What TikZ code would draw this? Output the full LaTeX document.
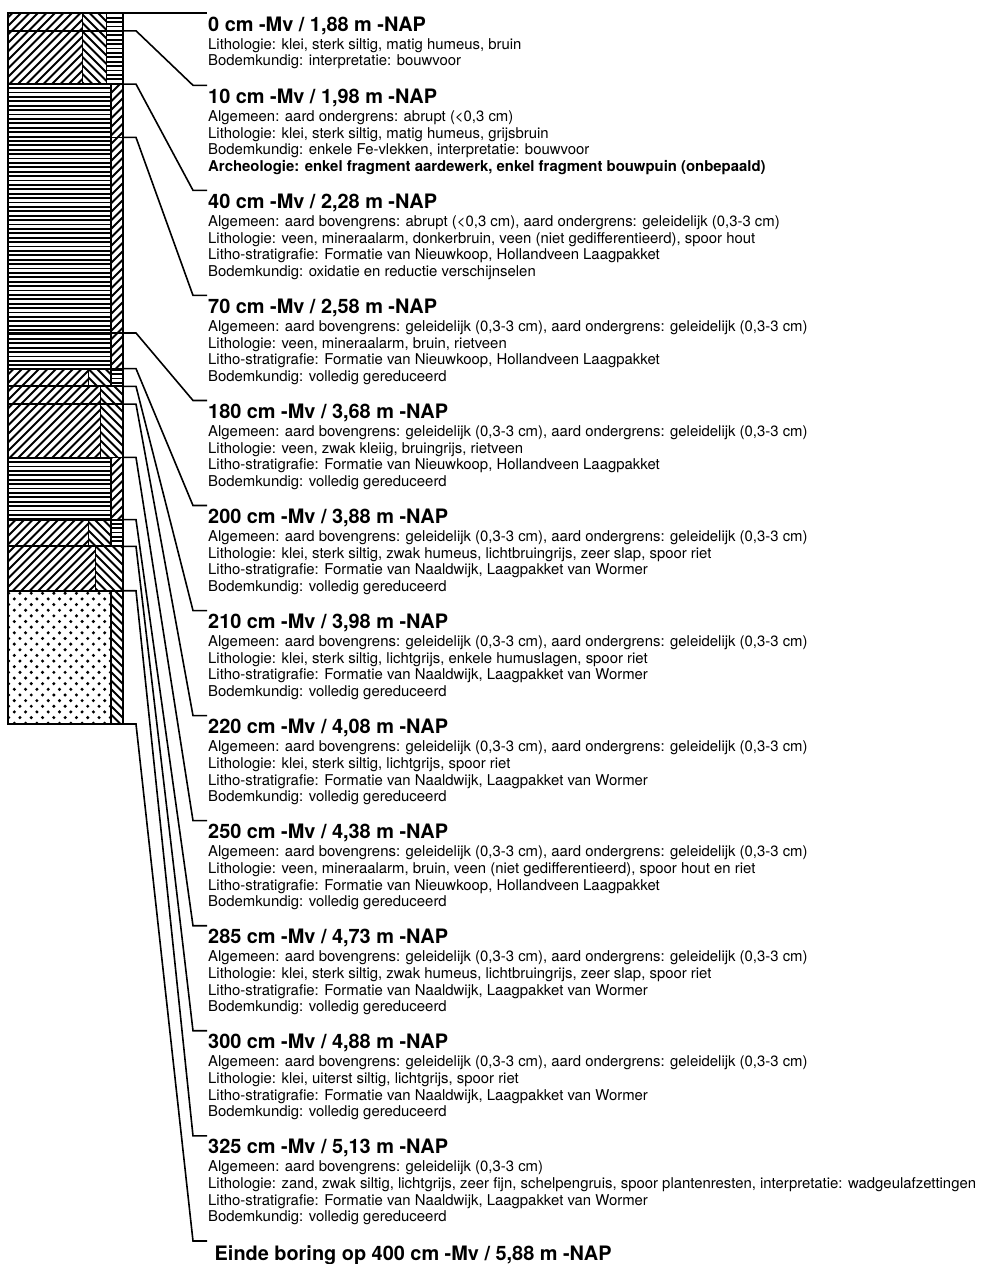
\documentclass[tikz,border=0pt]{standalone}
\usepackage{fontspec}
\setmainfont{TeX Gyre Heros}
\usetikzlibrary{calc}

\begin{document}
\begin{tikzpicture}[x=1pt, y=-1pt,
    head/.style={anchor=base west, inner sep=0pt, font=\fontsize{19.9}{22}\selectfont\bfseries},
    body/.style={anchor=base west, inner sep=0pt, align=left, font=\fontsize{14.9}{16.7}\selectfont},
    layer/.style={line width=1.8pt},
    divider/.style={line width=1pt},
    hatch/.style={line width=1.9pt},
    stripe/.style={line width=1.8pt},
    conn/.style={line width=1.6pt}]

        % Dimensions of the boring column
        \def\colL{8}
        \def\colR{123}
        \def\textx{208}
        \def\gap{8.5} % spacing of the hatching
        \def\lead{4.4} % spacing of the stripes

        \useasboundingbox (0,0) rectangle (982,1264);

\newcommand{\hatchfwd}[4]{
    \begin{scope}
        \clip (#1,#2) rectangle (#3,#4);
        \pgfmathtruncatemacro{\ka}{(#1+#2)/\gap-2}
        \pgfmathtruncatemacro{\kb}{(#3+#4)/\gap+2}
        \foreach \k in {\ka,...,\kb}
            \draw[hatch] ({\k*\gap-#4-2},{#4+2}) -- ({\k*\gap-#2+2},{#2-2});
    \end{scope}
}
\newcommand{\hatchback}[4]{
    \begin{scope}
        \clip (#1,#2) rectangle (#3,#4);
        \pgfmathtruncatemacro{\ka}{(#1-#4)/\gap-2}
        \pgfmathtruncatemacro{\kb}{(#3-#2)/\gap+2}
        \foreach \k in {\ka,...,\kb}
            \draw[hatch] ({\k*\gap+#2-2},{#2-2}) -- ({\k*\gap+#4+2},{#4+2});
    \end{scope}
}
\newcommand{\hstripes}[4]{
    \begin{scope}
        \clip (#1,#2) rectangle (#3,#4);
        \pgfmathtruncatemacro{\ka}{#2/\lead}
        \pgfmathtruncatemacro{\kb}{#4/\lead+1}
        \foreach \k in {\ka,...,\kb}
            \draw[stripe] (#1,{\k*\lead}) -- (#3,{\k*\lead});
    \end{scope}
}
\newcommand{\sanddots}[4]{
    \begin{scope}
        \clip (#1,#2) rectangle (#3,#4);
        \pgfmathtruncatemacro{\ka}{#2/5.65}
        \pgfmathtruncatemacro{\kb}{#4/5.65+1}
        \foreach \k in {\ka,...,\kb}
            \foreach \m in {0,...,10}
                \fill ({\m*11.3+mod(\k,2)*5.65+3},{\k*5.65}) circle (1.7);
    \end{scope}
}

        % Fill the layers
        \hatchfwd{8}{13}{82}{84.1}
        \hatchback{82}{13}{106.5}{84.1}
        \hstripes{106.5}{13}{123}{84.1}
        \hstripes{8}{84.1}{111}{368.6}
        \hatchfwd{111}{84.1}{123}{368.6}
        \hatchfwd{8}{368.6}{88}{386.3}
        \hatchback{88}{368.6}{111}{386.3}
        \hstripes{111}{368.6}{123}{386.3}
        \hatchfwd{8}{386.3}{100}{457.4}
        \hatchback{100}{386.3}{123}{457.4}
        \hstripes{8}{457.4}{111}{519.6}
        \hatchfwd{111}{457.4}{123}{519.6}
        \hatchfwd{8}{519.6}{88}{546.3}
        \hatchback{88}{519.6}{111}{546.3}
        \hstripes{111}{519.6}{123}{546.3}
        \hatchfwd{8}{546.3}{95}{590.7}
        \hatchback{95}{546.3}{123}{590.7}
        \sanddots{8}{590.7}{111}{724}
        \hatchback{111}{590.7}{123}{724}

        % Draw the layer boundaries
        \foreach \ya/\yb in {13/30.8, 30.8/84.1, 84.1/137.4, 137.4/333, 333/368.6, 368.6/386.3, 386.3/404.1, 404.1/457.4, 457.4/519.6, 519.6/546.3, 546.3/590.7, 590.7/724} {
            \draw[layer] (\colL,\ya) rectangle (\colR,\yb);
        }
        \draw[divider] (82,13) -- (82,84.1);
        \draw[divider] (88,368.6) -- (88,386.3);
        \draw[divider] (100,386.3) -- (100,457.4);
        \draw[divider] (88,519.6) -- (88,546.3);
        \draw[divider] (95,546.3) -- (95,590.7);
        \draw[layer] (106.5,13) -- (106.5,84.1);
        \draw[layer] (111,84.1) -- (111,386.3);
        \draw[layer] (111,457.4) -- (111,546.3);
        \draw[layer] (111,590.7) -- (111,724);

        % Tops of the layers at the column edge
        \foreach \n/\y in {0/13, 1/30.8, 2/84.1, 3/137.4, 4/333, 5/368.6, 6/386.3, 7/404.1, 8/457.4, 9/519.6, 10/546.3, 11/590.7, 12/724} {
            \coordinate (t\n) at (\colR,\y);
        }

        % Descriptions of the layers (body placed on its last line)
        \node[head] (h0) at (\textx,31) {0 cm -Mv / 1,88 m -NAP};
        \node[body] (b0) at ([yshift=-34.7pt]h0.base west) {Lithologie: klei, sterk siltig, matig humeus, bruin\\Bodemkundig: interpretatie: bouwvoor};

        \node[head] (h1) at (\textx,103.3) {10 cm -Mv / 1,98 m -NAP};
        \node[body] (b1) at ([yshift=-68.1pt]h1.base west) {Algemeen: aard ondergrens: abrupt (<0,3 cm)\\Lithologie: klei, sterk siltig, matig humeus, grijsbruin\\Bodemkundig: enkele Fe-vlekken, interpretatie: bouwvoor\\{\bfseries Archeologie: enkel fragment aardewerk, enkel fragment bouwpuin (onbepaald)}};

        \node[head] (h2) at (\textx,208.35) {40 cm -Mv / 2,28 m -NAP};
        \node[body] (b2) at ([yshift=-68.1pt]h2.base west) {Algemeen: aard bovengrens: abrupt (<0,3 cm), aard ondergrens: geleidelijk (0,3-3 cm)\\Lithologie: veen, mineraalarm, donkerbruin, veen (niet gedifferentieerd), spoor hout\\Litho-stratigrafie: Formatie van Nieuwkoop, Hollandveen Laagpakket\\Bodemkundig: oxidatie en reductie verschijnselen};

        \node[head] (h3) at (\textx,313.4) {70 cm -Mv / 2,58 m -NAP};
        \node[body] (b3) at ([yshift=-68.1pt]h3.base west) {Algemeen: aard bovengrens: geleidelijk (0,3-3 cm), aard ondergrens: geleidelijk (0,3-3 cm)\\Lithologie: veen, mineraalarm, bruin, rietveen\\Litho-stratigrafie: Formatie van Nieuwkoop, Hollandveen Laagpakket\\Bodemkundig: volledig gereduceerd};

        \node[head] (h4) at (\textx,418.45) {180 cm -Mv / 3,68 m -NAP};
        \node[body] (b4) at ([yshift=-68.1pt]h4.base west) {Algemeen: aard bovengrens: geleidelijk (0,3-3 cm), aard ondergrens: geleidelijk (0,3-3 cm)\\Lithologie: veen, zwak kleiig, bruingrijs, rietveen\\Litho-stratigrafie: Formatie van Nieuwkoop, Hollandveen Laagpakket\\Bodemkundig: volledig gereduceerd};

        \node[head] (h5) at (\textx,523.5) {200 cm -Mv / 3,88 m -NAP};
        \node[body] (b5) at ([yshift=-68.1pt]h5.base west) {Algemeen: aard bovengrens: geleidelijk (0,3-3 cm), aard ondergrens: geleidelijk (0,3-3 cm)\\Lithologie: klei, sterk siltig, zwak humeus, lichtbruingrijs, zeer slap, spoor riet\\Litho-stratigrafie: Formatie van Naaldwijk, Laagpakket van Wormer\\Bodemkundig: volledig gereduceerd};

        \node[head] (h6) at (\textx,628.55) {210 cm -Mv / 3,98 m -NAP};
        \node[body] (b6) at ([yshift=-68.1pt]h6.base west) {Algemeen: aard bovengrens: geleidelijk (0,3-3 cm), aard ondergrens: geleidelijk (0,3-3 cm)\\Lithologie: klei, sterk siltig, lichtgrijs, enkele humuslagen, spoor riet\\Litho-stratigrafie: Formatie van Naaldwijk, Laagpakket van Wormer\\Bodemkundig: volledig gereduceerd};

        \node[head] (h7) at (\textx,733.6) {220 cm -Mv / 4,08 m -NAP};
        \node[body] (b7) at ([yshift=-68.1pt]h7.base west) {Algemeen: aard bovengrens: geleidelijk (0,3-3 cm), aard ondergrens: geleidelijk (0,3-3 cm)\\Lithologie: klei, sterk siltig, lichtgrijs, spoor riet\\Litho-stratigrafie: Formatie van Naaldwijk, Laagpakket van Wormer\\Bodemkundig: volledig gereduceerd};

        \node[head] (h8) at (\textx,838.65) {250 cm -Mv / 4,38 m -NAP};
        \node[body] (b8) at ([yshift=-68.1pt]h8.base west) {Algemeen: aard bovengrens: geleidelijk (0,3-3 cm), aard ondergrens: geleidelijk (0,3-3 cm)\\Lithologie: veen, mineraalarm, bruin, veen (niet gedifferentieerd), spoor hout en riet\\Litho-stratigrafie: Formatie van Nieuwkoop, Hollandveen Laagpakket\\Bodemkundig: volledig gereduceerd};

        \node[head] (h9) at (\textx,943.7) {285 cm -Mv / 4,73 m -NAP};
        \node[body] (b9) at ([yshift=-68.1pt]h9.base west) {Algemeen: aard bovengrens: geleidelijk (0,3-3 cm), aard ondergrens: geleidelijk (0,3-3 cm)\\Lithologie: klei, sterk siltig, zwak humeus, lichtbruingrijs, zeer slap, spoor riet\\Litho-stratigrafie: Formatie van Naaldwijk, Laagpakket van Wormer\\Bodemkundig: volledig gereduceerd};

        \node[head] (h10) at (\textx,1048.75) {300 cm -Mv / 4,88 m -NAP};
        \node[body] (b10) at ([yshift=-68.1pt]h10.base west) {Algemeen: aard bovengrens: geleidelijk (0,3-3 cm), aard ondergrens: geleidelijk (0,3-3 cm)\\Lithologie: klei, uiterst siltig, lichtgrijs, spoor riet\\Litho-stratigrafie: Formatie van Naaldwijk, Laagpakket van Wormer\\Bodemkundig: volledig gereduceerd};

        \node[head] (h11) at (\textx,1153.8) {325 cm -Mv / 5,13 m -NAP};
        \node[body] (b11) at ([yshift=-68.1pt]h11.base west) {Algemeen: aard bovengrens: geleidelijk (0,3-3 cm)\\Lithologie: zand, zwak siltig, lichtgrijs, zeer fijn, schelpengruis, spoor plantenresten, interpretatie: wadgeulafzettingen\\Litho-stratigrafie: Formatie van Naaldwijk, Laagpakket van Wormer\\Bodemkundig: volledig gereduceerd};

        \node[head] (h12) at (214.5,1260) {Einde boring op 400 cm -Mv / 5,88 m -NAP};

        % Connect the layers to their descriptions
        \foreach \n in {0,...,11} {
            \draw[conn] (t\n) -- ++(13,0) -- ([shift={(-15pt,18pt)}]h\n.base west) -- ([shift={(-1pt,18pt)}]h\n.base west);
        }
        \draw[conn] (t12) -- ++(13,0) -- ([shift={(-21.5pt,19pt)}]h12.base west) -- ([shift={(-7.5pt,19pt)}]h12.base west);
    \end{tikzpicture}
\end{document}
